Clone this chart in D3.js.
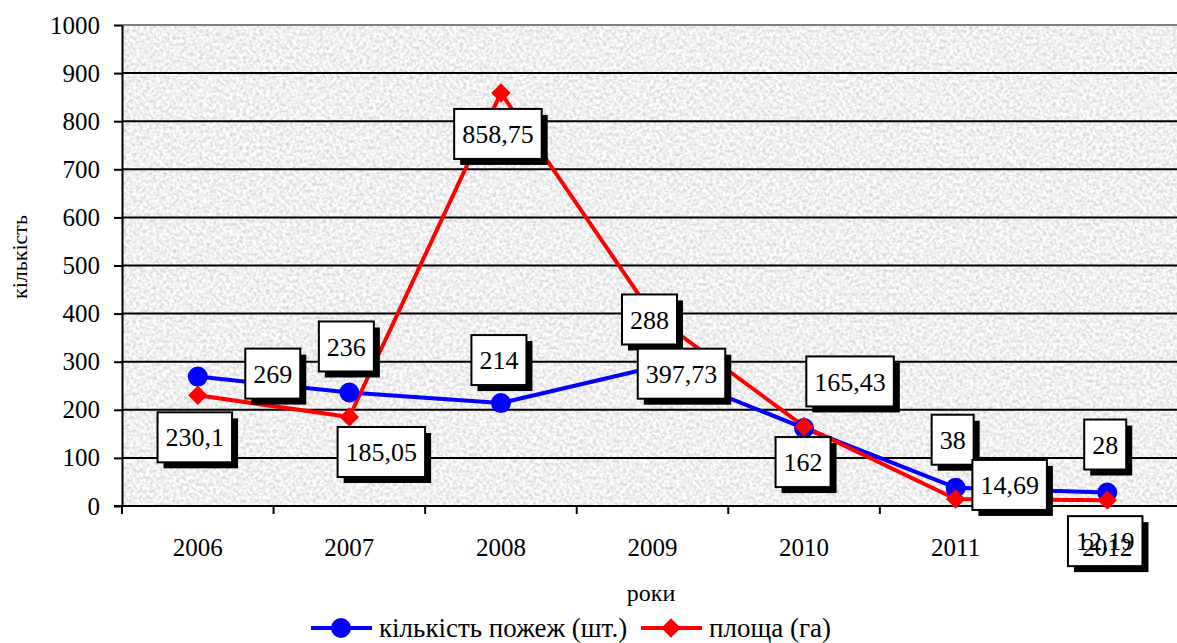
<!DOCTYPE html>
<html>
<head>
<meta charset="utf-8">
<script src="https://cdn.jsdelivr.net/npm/d3@7"></script>
<style>
  html, body { margin: 0; padding: 0; background: #fff; overflow: hidden; }
  svg text { font-family: "Liberation Serif", "Times New Roman", "DejaVu Serif", serif; }
</style>
</head>
<body>
<svg id="chart" width="1177" height="643"></svg>
<script>
// Fires in the forest fund, by year
const years = ["2006", "2007", "2008", "2009", "2010", "2011", "2012"];
const fireCount = [269, 236, 214, 288, 162, 38, 28];           // кількість пожеж (шт.)
const fireArea = [230.1, 185.05, 858.75, 397.73, 165.43, 14.69, 12.19]; // площа (га)
const yTicks = [0, 100, 200, 300, 400, 500, 600, 700, 800, 900, 1000];

// Series label texts as printed on the chart
const countLabels = ["269", "236", "214", "288", "162", "38", "28"];
const areaLabels = ["230,1", "185,05", "858,75", "397,73", "165,43", "14,69", "12,19"];

// Hand-placed label offsets (px from the point to the label box centre)
const countLabelOffsets = [[75, -3], [-3, -46], [-2, -43], [-3, -48], [-1, 34], [-3, -48], [-2, -48]];
const areaLabelOffsets = [[-3, 42], [32, 35], [-3, 41], [29, 59], [46, -45], [54, -14], [-2, 41]];

const FONT = "Liberation Serif, Times New Roman, DejaVu Serif, serif";
const svg = d3.select("#chart");
const plot = { left: 122, top: 25, right: 1183, bottom: 506 };

const x = d3.scaleBand().domain(years).range([plot.left, plot.right]).padding(0);
const y = d3.scaleLinear().domain([0, 1000]).range([plot.bottom, plot.top]);
const cx = d => x(d) + x.bandwidth() / 2;

// Granite-like texture for the plot area
const defs = svg.append("defs");
const f = defs.append("filter").attr("id", "granite")
  .attr("x", 0).attr("y", 0).attr("width", 1).attr("height", 1)
  .attr("color-interpolation-filters", "sRGB");
f.append("feTurbulence").attr("type", "fractalNoise")
  .attr("baseFrequency", "0.3").attr("numOctaves", 3).attr("seed", 7).attr("result", "n");
f.append("feColorMatrix").attr("type", "matrix")
  .attr("values", "0.34 0 0 0 0.77  0.34 0 0 0 0.77  0.34 0 0 0 0.77  0 0 0 0 1");

svg.append("rect")
  .attr("x", plot.left).attr("y", plot.top)
  .attr("width", plot.right - plot.left).attr("height", plot.bottom - plot.top)
  .attr("fill", "#ebebeb")
  .attr("filter", "url(#granite)");

// Horizontal gridlines
svg.append("g").selectAll("line")
  .data(yTicks.filter(t => t > 0 && t < 1000))
  .join("line")
  .attr("x1", plot.left).attr("x2", plot.right)
  .attr("y1", d => y(d)).attr("y2", d => y(d))
  .attr("stroke", "#000").attr("stroke-width", 2);

// Top border of the plot area
svg.append("line")
  .attr("x1", plot.left).attr("x2", plot.right)
  .attr("y1", y(1000)).attr("y2", y(1000))
  .attr("stroke", "#808080").attr("stroke-width", 2);

// Y axis
const yAxis = svg.append("g")
  .attr("transform", `translate(${plot.left},0)`)
  .call(d3.axisLeft(y).tickValues(yTicks).tickFormat(d3.format("d"))
    .tickSize(8).tickSizeOuter(0).tickPadding(14));
yAxis.attr("font-family", FONT).attr("font-size", 25);
yAxis.select(".domain").attr("stroke", "#000").attr("stroke-width", 2);
yAxis.selectAll(".tick line").attr("stroke", "#000").attr("stroke-width", 2);
yAxis.selectAll(".tick text").attr("fill", "#000");

// X axis line and tick marks at category boundaries
svg.append("line")
  .attr("x1", plot.left - 8).attr("x2", plot.right)
  .attr("y1", plot.bottom).attr("y2", plot.bottom)
  .attr("stroke", "#000").attr("stroke-width", 2);
const bounds = years.map(d => x(d)).concat([x(years[years.length - 1]) + x.bandwidth()]);
svg.append("g").selectAll("line").data(bounds).join("line")
  .attr("x1", d => d).attr("x2", d => d)
  .attr("y1", plot.bottom).attr("y2", plot.bottom + 8)
  .attr("stroke", "#000").attr("stroke-width", 2);

// Series lines
const lineGen = d3.line().x((d, i) => cx(years[i])).y(d => y(d));
svg.append("path").datum(fireCount)
  .attr("d", lineGen).attr("fill", "none")
  .attr("stroke", "#0000ff").attr("stroke-width", 4).attr("stroke-linejoin", "round");
svg.append("path").datum(fireArea)
  .attr("d", lineGen).attr("fill", "none")
  .attr("stroke", "#ff0000").attr("stroke-width", 4).attr("stroke-linejoin", "round");

// Markers
svg.append("g").selectAll("circle").data(fireCount).join("circle")
  .attr("cx", (d, i) => cx(years[i])).attr("cy", d => y(d)).attr("r", 10)
  .attr("fill", "#0000ff");
const diamond = d3.symbol().type(d3.symbolDiamond2).size(240);
svg.append("g").selectAll("path").data(fireArea).join("path")
  .attr("d", diamond)
  .attr("transform", (d, i) => `translate(${cx(years[i])},${y(d)})`)
  .attr("fill", "#ff0000");

// Data labels: white boxes with a black drop shadow
function drawLabels(values, texts, offsets) {
  const g = svg.append("g");
  values.forEach((v, i) => {
    const px = cx(years[i]) + offsets[i][0];
    const py = y(v) + offsets[i][1];
    const lg = g.append("g").attr("transform", `translate(${px},${py})`);
    const t = lg.append("text").text(texts[i])
      .attr("text-anchor", "middle").attr("dy", "0.35em")
      .attr("font-family", FONT).attr("font-size", 26).attr("fill", "#000");
    const w = t.node().getComputedTextLength() + 16;
    const h = 50;
    lg.insert("rect", "text")
      .attr("x", -w / 2 + 6).attr("y", -h / 2 + 6).attr("width", w).attr("height", h)
      .attr("fill", "#000");
    lg.insert("rect", "text")
      .attr("x", -w / 2).attr("y", -h / 2).attr("width", w).attr("height", h)
      .attr("fill", "#fff").attr("stroke", "#000").attr("stroke-width", 2);
  });
}
drawLabels(fireCount, countLabels, countLabelOffsets);
drawLabels(fireArea, areaLabels, areaLabelOffsets);

// Category labels
svg.append("g").selectAll("text").data(years).join("text")
  .attr("x", d => cx(d)).attr("y", 556)
  .attr("text-anchor", "middle").attr("font-family", FONT).attr("font-size", 25).attr("fill", "#000")
  .text(d => d);

// Axis titles
svg.append("text")
  .attr("transform", `translate(27,257) rotate(-90)`)
  .attr("text-anchor", "middle").attr("font-family", FONT).attr("font-size", 22).attr("fill", "#000")
  .text("кількість");
svg.append("text")
  .attr("x", 651).attr("y", 601)
  .attr("text-anchor", "middle").attr("font-family", FONT).attr("font-size", 24).attr("fill", "#000")
  .text("роки");

// Legend
const legend = svg.append("g").attr("transform", "translate(0,628)")
  .attr("font-family", FONT);
legend.append("line").attr("x1", 311).attr("x2", 372).attr("y1", 0).attr("y2", 0)
  .attr("stroke", "#0000ff").attr("stroke-width", 4);
legend.append("circle").attr("cx", 341).attr("cy", 0).attr("r", 10).attr("fill", "#0000ff");
legend.append("text").attr("x", 379).attr("y", 9).attr("font-size", 27).attr("fill", "#000")
  .text("кількість пожеж (шт.)");
legend.append("line").attr("x1", 641).attr("x2", 702).attr("y1", 0).attr("y2", 0)
  .attr("stroke", "#ff0000").attr("stroke-width", 4);
legend.append("path").attr("d", diamond)
  .attr("transform", "translate(671,0)").attr("fill", "#ff0000");
legend.append("text").attr("x", 709).attr("y", 9).attr("font-size", 27).attr("fill", "#000")
  .text("площа (га)");
</script>
</body>
</html>
